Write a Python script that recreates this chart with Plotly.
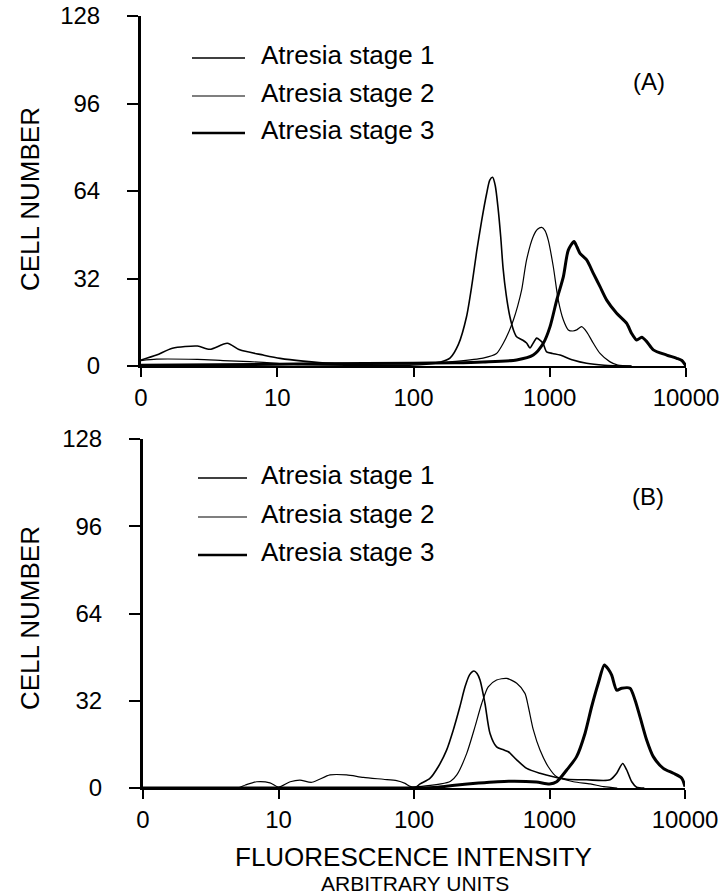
import plotly.graph_objects as go

W, H = 728, 896
FONT = "Liberation Sans, Arial, Helvetica, sans-serif"

# ---- Tick labels (x is logarithmic; the first decade is labelled 0) ----
x_tickvals = [1, 10, 100, 1000, 10000]
x_ticktext = ["0", "10", "100", "1000", "10000"]
y_tickvals = [0, 32, 64, 96, 128]
series_names = ["Atresia stage 1", "Atresia stage 2", "Atresia stage 3"]

# ---- Panel A: fluorescence intensity vs cell number ----
a1_x = [1, 1.3, 1.7, 2.6, 3.2, 4.3, 5.3, 7.9, 10.5, 15.5, 25, 63, 126, 158, 186, 214, 245,
        269, 291, 316, 344, 363, 381, 398, 417, 437, 454, 479, 510, 543, 571, 631, 676, 716,
        759, 802, 851, 891, 948, 1047, 1189, 1479, 1862, 2512, 3981]
a1_y = [2.2, 4, 6.5, 7.3, 6.1, 8.3, 5.9, 4, 2.8, 1.8, 1.0, 0.8, 1.0, 1.5, 3, 8, 18,
        30, 42, 53, 63, 68, 69, 66, 58, 47, 36, 26, 18, 13, 10.7, 9.5, 8.4, 6.6,
        8.5, 10.2, 9.4, 8.4, 5.2, 4.6, 4, 2.2, 1, 0.3, 0]

a2_x = [1, 1.3, 2.6, 4, 6.3, 10, 15, 100, 186, 324, 407, 456, 501, 541, 582, 622, 676,
        755, 813, 873, 923, 975, 1062, 1156, 1259, 1368, 1479, 1578, 1714, 1866, 2089,
        2339, 2754, 3162, 3981]
a2_y = [2.0, 2.5, 2.4, 2.0, 1.6, 1.0, 0.5, 0.3, 1.5, 2.9, 4.6, 8.3, 12.5, 16.8, 22, 27.8,
        38.8, 47.3, 50, 50.7, 49.5, 46, 36.3, 24, 16.8, 13.2, 12.8, 13.2, 14.4, 12.5, 8.3,
        4.6, 1.6, 0.3, 0]

a3_x = [1, 10, 20, 100, 200, 324, 571, 757, 897, 1005, 1125, 1259, 1368, 1507, 1585, 1667,
        1866, 2089, 2339, 2618, 3097, 3673, 3981, 4345, 4732, 5152, 5754, 7211, 8551,
        9333, 10000]
a3_y = [0.3, 0.6, 0.8, 1.0, 1.2, 1.5, 2.2, 4, 8.3, 14.4, 24.1, 32.7, 42.4, 45.5, 43.5, 41.2,
        38.8, 33.9, 29, 24.1, 19.3, 15.6, 12, 9.5, 10.5, 8.9, 5.9, 4, 2.8, 2, 0]

# ---- Panel B ----
b1_x = [1, 100, 111, 131, 151, 174, 195, 218, 238, 257, 277, 292, 307, 334, 364, 407, 457,
        497, 573, 679, 851, 1067, 1340, 1879, 2799, 3133, 3467, 3715, 4046, 4395, 5012]
b1_y = [0, 0, 1.5, 3.5, 7.8, 13.9, 21.3, 29.8, 37.1, 41.5, 42.9, 42, 39.6, 31, 20, 15.1, 14,
        13.3, 10.3, 7.2, 5.4, 4.1, 3.2, 3, 3, 5.4, 9, 6.6, 2.3, 0.3, 0]

b2_x = [1, 5, 5.7, 6.9, 8.65, 10, 12.2, 14.4, 17.6, 24, 31.8, 42.3, 59.3, 74.5, 85.9, 95,
        158, 186, 207, 245, 282, 316, 353, 407, 483, 573, 659, 698, 760, 851, 979, 1130,
        1500, 1995, 2512, 3162]
b2_y = [0, 0, 1.1, 2.3, 1.9, 0.3, 2.3, 2.9, 2.1, 4.8, 4.8, 3.9, 3.2, 2.7, 1.7, 0.5,
        1.5, 2.5, 4.8, 12.7, 22.5, 31, 37.1, 39.6, 40.2, 38.4, 34.7, 29.8, 21.3, 13.9, 7.8,
        4.1, 2.3, 1.5, 0.5, 0]

b3_x = [1, 100, 150, 200, 300, 500, 800, 1000, 1130, 1340, 1585, 1828, 2046, 2291, 2541,
        2723, 2877, 3133, 3412, 3926, 4276, 4656, 5212, 5834, 6918, 8204, 9462, 10000]
b3_y = [0, 0, 0.3, 1.0, 1.8, 2.5, 2.2, 1.5, 2.3, 6.6, 11.5, 20, 29.8, 38.4, 45.1,
        43.5, 41.4, 35.9, 36.6, 36.6, 32.3, 26.1, 17.6, 11.5, 7.2, 5.4, 3.6, 0.5]

line_widths = [1.6, 1.2, 3.0]


def px_x(p):
    return p / W


def px_y(p):
    return 1 - p / H


fig = go.Figure()

panels = [
    ("x", "y", [(a1_x, a1_y), (a2_x, a2_y), (a3_x, a3_y)]),
    ("x2", "y2", [(b1_x, b1_y), (b2_x, b2_y), (b3_x, b3_y)]),
]
for xa, ya, curves in panels:
    for (xs, ys), name, lw in zip(curves, series_names, line_widths):
        fig.add_trace(go.Scatter(
            x=xs, y=ys, xaxis=xa, yaxis=ya, mode="lines", name=name,
            line=dict(color="black", width=lw, shape="spline", smoothing=0.7),
            showlegend=False, hoverinfo="skip"))

x_common = dict(type="log", range=[0, 4], tickvals=x_tickvals, ticktext=x_ticktext,
                ticks="outside", ticklen=9, tickwidth=2, tickcolor="black",
                showline=True, linewidth=2, linecolor="black", showgrid=False,
                zeroline=False, automargin=False,
                tickfont=dict(family=FONT, size=24, color="black"))
y_common = dict(range=[0, 128], tickvals=y_tickvals, ticks="outside", ticklen=11,
                tickwidth=2, tickcolor="black", showline=True, linewidth=3,
                linecolor="black", showgrid=False, zeroline=False, automargin=False,
                ticklabelstandoff=22,
                tickfont=dict(family=FONT, size=24, color="black"))

fig.update_layout(
    template="none",
    width=W, height=H, autosize=False,
    margin=dict(l=0, r=0, t=0, b=0, pad=0, autoexpand=False),
    paper_bgcolor="white", plot_bgcolor="white",
    xaxis=dict(domain=[px_x(141), px_x(686)], anchor="y", **x_common),
    yaxis=dict(domain=[px_y(366), px_y(16)], anchor="x", **y_common),
    xaxis2=dict(domain=[px_x(143), px_x(685)], anchor="y2", **x_common),
    yaxis2=dict(domain=[px_y(788), px_y(439)], anchor="x2", **y_common),
)

annotations = []
shapes = []

# Legend blocks and panel letters
legend_rows = {
    "A": dict(line_x=(192, 245), rows=[55, 93, 130], letter=("(A)", 649, 82)),
    "B": dict(line_x=(198, 247), rows=[475, 514, 552], letter=("(B)", 648, 496)),
}
for key, spec in legend_rows.items():
    x0, x1 = spec["line_x"]
    for name, yc, lw in zip(series_names, spec["rows"], line_widths):
        shapes.append(dict(type="line", xref="paper", yref="paper",
                           x0=px_x(x0), x1=px_x(x1), y0=px_y(yc + 3), y1=px_y(yc + 3),
                           line=dict(color="black", width=min(lw, 2.4))))
        annotations.append(dict(text=name, xref="paper", yref="paper",
                                x=px_x(259), y=px_y(yc), xanchor="left", yanchor="middle",
                                showarrow=False,
                                font=dict(family=FONT, size=26, color="black")))
    txt, lx, ly = spec["letter"]
    annotations.append(dict(text=txt, xref="paper", yref="paper", x=px_x(lx), y=px_y(ly),
                            xanchor="center", yanchor="middle", showarrow=False,
                            font=dict(family=FONT, size=24, color="black")))

# Axis titles
for yc in (199, 618):
    annotations.append(dict(text="CELL NUMBER", xref="paper", yref="paper",
                            x=px_x(30), y=px_y(yc), xanchor="center", yanchor="middle",
                            textangle=-90, showarrow=False,
                            font=dict(family=FONT, size=26, color="black")))
annotations.append(dict(text="FLUORESCENCE INTENSITY", xref="paper", yref="paper",
                        x=px_x(413), y=px_y(857), xanchor="center", yanchor="middle",
                        showarrow=False, font=dict(family=FONT, size=26, color="black")))
annotations.append(dict(text="ARBITRARY UNITS", xref="paper", yref="paper",
                        x=px_x(415), y=px_y(883), xanchor="center", yanchor="middle",
                        showarrow=False, font=dict(family=FONT, size=21, color="black")))

fig.update_layout(annotations=annotations, shapes=shapes)
fig.write_html("out.html")
